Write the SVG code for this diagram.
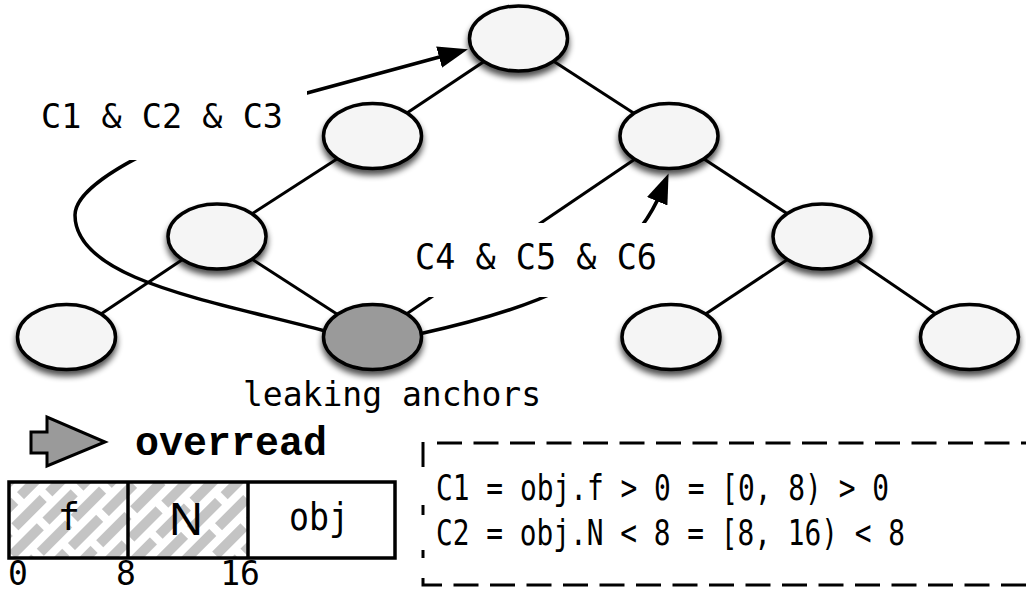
<svg xmlns="http://www.w3.org/2000/svg" width="1026" height="591" viewBox="0 0 1026 591">
  <style>
    .edge { stroke: #000; stroke-width: 3; fill: none; }
    .curve { stroke: #000; stroke-width: 3.5; fill: none; }
    .node { fill: #f5f5f5; stroke: #000; stroke-width: 3.5; filter: url(#shadow); }
    .node.dark { fill: #9a9a9a; }
    .mono { font-family: "DejaVu Sans Mono", monospace; fill: #000; }
    .labelbg { fill: #fff; }
    .dash { stroke: #000; stroke-width: 3; fill: none; }
  </style>
  <defs>
    <filter id="shadow" x="-30%" y="-30%" width="160%" height="190%">
      <feGaussianBlur in="SourceAlpha" stdDeviation="3"/>
      <feOffset dy="5"/>
      <feComponentTransfer><feFuncA type="linear" slope="0.7"/></feComponentTransfer>
      <feMerge><feMergeNode/><feMergeNode in="SourceGraphic"/></feMerge>
    </filter>
    <marker id="head" markerUnits="userSpaceOnUse" markerWidth="32" markerHeight="24" viewBox="0 0 32 24" refX="10" refY="11" orient="auto">
      <path d="M0,0 L30,11 L0,22 Z" fill="#000"/>
    </marker>
    <pattern id="hatch" patternUnits="userSpaceOnUse" width="48" height="36" patternTransform="rotate(-45)">
      <rect x="0" y="0" width="40" height="10" fill="#c4c4c4"/>
      <rect x="22" y="18" width="40" height="10" fill="#c4c4c4"/>
      <rect x="-26" y="18" width="40" height="10" fill="#c4c4c4"/>
    </pattern>
  </defs>

  <rect width="1026" height="591" fill="#fff"/>

  <!-- tree edges and condition arrows -->
  <g id="connectors">
    <line class="edge" x1="518.5" y1="38.5" x2="372.5" y2="136"/>
    <line class="edge" x1="518.5" y1="38.5" x2="669" y2="136"/>
    <line class="edge" x1="372.5" y1="136" x2="217" y2="236.5"/>
    <line class="edge" x1="217" y1="236.5" x2="66.5" y2="337"/>
    <line class="edge" x1="217" y1="236.5" x2="372.5" y2="337"/>
    <line class="edge" x1="669" y1="136" x2="372.5" y2="337"/>
    <line class="edge" x1="669" y1="136" x2="822" y2="236.5"/>
    <line class="edge" x1="822" y1="236.5" x2="671" y2="337"/>
    <line class="edge" x1="822" y1="236.5" x2="969.5" y2="337"/>
    <path class="curve" d="M 325 331 C 213 301, 75 280, 75 215 C 75 170, 240 111, 307 93 L 448.7 54.5" marker-end="url(#head)"/>
    <path class="curve" d="M 419 334 C 520 312, 625 280, 661 192" marker-end="url(#head)"/>
  </g>

  <g id="n-root"><ellipse class="node" cx="518.5" cy="38.5" rx="49" ry="32.5"/></g>
  <g id="n-l1-left"><ellipse class="node" cx="372.5" cy="136" rx="49" ry="32.5"/></g>
  <g id="n-l1-right"><ellipse class="node" cx="669" cy="136" rx="49" ry="32.5"/></g>
  <g id="n-l2-left"><ellipse class="node" cx="217" cy="236.5" rx="49" ry="32.5"/></g>
  <g id="n-l2-right"><ellipse class="node" cx="822" cy="236.5" rx="49" ry="32.5"/></g>
  <g id="n-leaf-1"><ellipse class="node" cx="66.5" cy="337" rx="49" ry="32.5"/></g>
  <g id="n-anchor"><ellipse class="node dark" cx="372.5" cy="337" rx="49" ry="32.5"/></g>
  <g id="n-leaf-3"><ellipse class="node" cx="671" cy="337" rx="49" ry="32.5"/></g>
  <g id="n-leaf-4"><ellipse class="node" cx="969.5" cy="337" rx="49" ry="32.5"/></g>

  <!-- condition labels, drawn over the arrows -->
  <g id="label-c123">
    <rect class="labelbg" x="30" y="88" width="277" height="72"/>
    <text class="mono" x="41" y="128" font-size="34.5" textLength="242" lengthAdjust="spacingAndGlyphs">C1 &amp; C2 &amp; C3</text>
  </g>
  <g id="label-c456">
    <rect class="labelbg" x="405" y="223" width="257" height="74"/>
    <text class="mono" x="415" y="269" font-size="35" textLength="242" lengthAdjust="spacingAndGlyphs">C4 &amp; C5 &amp; C6</text>
  </g>
  <g id="label-leaking">
    <text class="mono" x="243" y="406" font-size="34" textLength="298" lengthAdjust="spacingAndGlyphs">leaking anchors</text>
  </g>

  <!-- legend: overread -->
  <g id="legend-overread">
    <polygon points="31,432 47,432 47,417 105,442 47,466 47,453 31,453" fill="#9a9a9a" stroke="#000" stroke-width="3" stroke-linejoin="miter"/>
    <text x="135" y="455" font-family="'Liberation Mono', monospace" font-weight="bold" font-size="40">overread</text>
  </g>

  <!-- object layout -->
  <g id="object-layout">
    <rect x="9" y="482" width="119" height="76" fill="url(#hatch)"/>
    <rect x="128" y="482" width="120" height="76" fill="url(#hatch)"/>
    <rect x="9" y="482" width="386" height="76" fill="none" stroke="#000" stroke-width="3.5"/>
    <line x1="128" y1="482" x2="128" y2="558" stroke="#000" stroke-width="3.5"/>
    <line x1="248" y1="482" x2="248" y2="558" stroke="#000" stroke-width="3.5"/>
    <text class="mono" x="69" y="530" font-size="37" text-anchor="middle">f</text>
    <text x="186" y="535" font-family="'Liberation Sans', sans-serif" font-size="47" text-anchor="middle">N</text>
    <text class="mono" x="289" y="530" font-size="37" textLength="60" lengthAdjust="spacingAndGlyphs">obj</text>
    <text class="mono" x="18" y="585" font-size="33" text-anchor="middle">0</text>
    <text class="mono" x="126" y="585" font-size="33" text-anchor="middle">8</text>
    <text class="mono" x="240" y="585" font-size="33" text-anchor="middle">16</text>
  </g>

  <!-- condition definitions -->
  <g id="definitions">
    <path class="dash" d="M 437 443 H 1030" stroke-dasharray="25 11.5"/>
    <path class="dash" d="M 423 442 V 467 M 423 505 V 515 M 423 550 V 558"/>
    <path class="dash" d="M 423 578 V 585 H 442"/>
    <path class="dash" d="M 453.5 585 H 1030" stroke-dasharray="25 11.5"/>
    <text class="mono" x="436" y="500" font-size="36" textLength="453" lengthAdjust="spacingAndGlyphs">C1 = obj.f &gt; 0 = [0, 8) &gt; 0</text>
    <text class="mono" x="436" y="545" font-size="36" textLength="469" lengthAdjust="spacingAndGlyphs">C2 = obj.N &lt; 8 = [8, 16) &lt; 8</text>
  </g>
</svg>
